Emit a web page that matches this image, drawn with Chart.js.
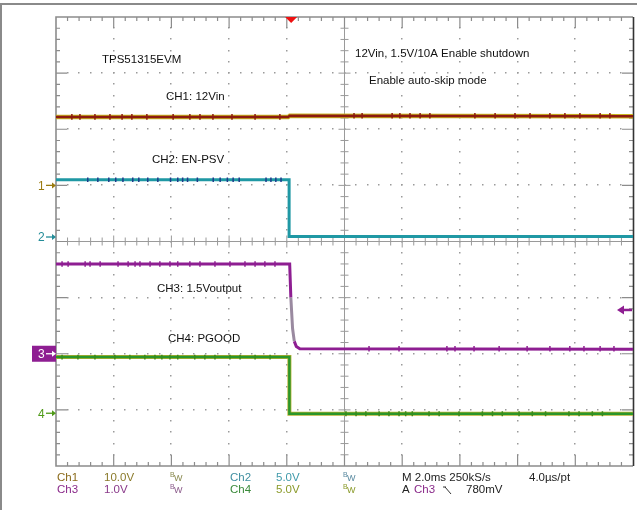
<!DOCTYPE html>
<html>
<head>
<meta charset="utf-8">
<script src="https://cdn.jsdelivr.net/npm/chart.js@4"></script>
<style>
  html, body { margin: 0; padding: 0; background: #fff; }
  canvas { display: block; }
</style>
</head>
<body>
<canvas id="scope" width="637" height="510"></canvas>
<script>
// time in ms (M 2.0ms/div, 10 divisions), values in volts
var ch1Time = [-8, 0.05, 0.1, 12];
var ch1Volts = [12.2, 12.2, 12.4, 12.3];
var ch2Time = [-8, 0.08, 0.08, 12];
var ch2Volts = [5.1, 5.1, 0.05, 0.05];
var ch3Time = [-8, 0.1, 0.14, 0.2, 0.26, 0.33, 0.45, 12];
var ch3Volts = [1.6, 1.6, 1.0, 0.45, 0.22, 0.13, 0.09, 0.08];
var ch4Time = [-8, 0.09, 0.09, 12];
var ch4Volts = [5.0, 5.0, -0.05, -0.05];

// times (ms) of the small noise spikes visible on each trace
var ch1Spikes = [-7.45, -7.17, -6.65, -6.13, -5.71, -5.37, -4.85, -3.94, -3.36, -3.01, -2.56, -1.9, -1.1, -0.24,
  2.33, 2.61, 3.65, 3.92, 4.27, 4.62, 4.96, 6.52, 7.22, 7.91, 8.43, 9.12, 9.64, 10.16, 10.86, 11.2];
var ch2Spikes = [-6.9, -6.55, -6.17, -5.93, -5.68, -5.34, -5.13, -4.82, -4.47, -4.03, -3.78, -3.61, -3.44, -3.1,
  -2.55, -2.31, -2.06, -1.86, -1.65, -0.72, -0.55, -0.38, -0.2];
var ch3Spikes = [-7.79, -7.58, -6.99, -6.82, -6.47, -5.85, -5.5, -5.26, -5.09, -4.74, -4.4, -4.05, -3.78, -3.36,
  -3.01, -2.49, -1.97, -1.45, -1.1, -0.76, -0.41, 2.85, 3.89, 5.55, 5.83, 6.49, 7.36, 8.33, 9.12, 9.81, 10.3, 10.86, 11.34];
var ch4Spikes = [-7.79, -7.24, -6.65, -5.96, -5.44, -4.92, -4.57, -4.33, -4.05, -3.78, -3.19, -2.84, -2.49, -1.97, -1.62,
  -1.1, -0.58, 2.05, 2.4, 2.74, 3.2, 3.54, 3.89, 4.12, 4.35, 4.93, 5.28, 5.97, 6.78, 7.13, 7.47, 8.05, 8.51, 8.97, 9.78, 10.13, 10.59, 10.94];
var spikeVolts = [0.5, 0.2, 0.05, 0.22];

// scope channel settings: volts per division and ground offset in divisions
var voltsPerDiv = [10, 5, 1, 5];
var offsetDiv = [1, 0.08, -2, -3.06];
var triggerVolts = 0.78;
var triggerTime = 0.15;

function pts(t, v) {
  return t.map(function (x, i) { return { x: x, y: v[i] }; });
}

// level the trace is sitting at when a spike occurs (last recorded sample)
function levelAt(times, volts, t) {
  var v = volts[0];
  for (var i = 0; i < times.length; i++) { if (times[i] <= t) v = volts[i]; }
  return v;
}

function spikePts(spikes, times, volts, amp) {
  var out = [];
  spikes.forEach(function (t) {
    var base = levelAt(times, volts, t);
    out.push({ x: t, y: base - amp }, { x: t, y: base + amp }, { x: t, y: null });
  });
  return out;
}

function chAxis(i) {
  return {
    type: 'linear', axis: 'y', display: false,
    min: -(4 + offsetDiv[i]) * voltsPerDiv[i],
    max: (4 - offsetDiv[i]) * voltsPerDiv[i]
  };
}

var gridPlugin = {
  id: 'scopeGrid',
  beforeDatasetsDraw: function (chart) {
    var ctx = chart.ctx, a = chart.chartArea;
    var xs = chart.scales.x, ds = chart.scales.div;
    ctx.save();
    ctx.fillStyle = '#fff';
    ctx.fillRect(0, 0, chart.width, chart.height);

    // outer frame of the screenshot
    ctx.strokeStyle = '#8a8a8a';
    ctx.lineWidth = 2;
    ctx.beginPath();
    ctx.moveTo(0, 4); ctx.lineTo(chart.width, 4);
    ctx.moveTo(1, 4); ctx.lineTo(1, chart.height);
    ctx.stroke();

    // dotted grid
    ctx.fillStyle = '#9a9a9a';
    var i, j, x, y;
    for (i = 1; i < 10; i++) {
      if (i === 5) continue;
      x = xs.getPixelForValue(-8 + 2 * i);
      for (j = 1; j < 40; j++) {
        y = ds.getPixelForValue(-4 + j * 0.2);
        ctx.fillRect(Math.round(x) - 1, Math.round(y) - 1, 1.5, 1.5);
      }
    }
    for (j = 1; j < 8; j++) {
      if (j === 4) continue;
      y = ds.getPixelForValue(-4 + j);
      for (i = 1; i < 50; i++) {
        x = xs.getPixelForValue(-8 + i * 0.4);
        ctx.fillRect(Math.round(x) - 1, Math.round(y) - 1, 1.5, 1.5);
      }
    }

    // center cross with ticks
    var xc = xs.getPixelForValue(2), yc = ds.getPixelForValue(0);
    ctx.strokeStyle = '#9a9a9a';
    ctx.lineWidth = 1;
    ctx.beginPath();
    ctx.moveTo(a.left, yc); ctx.lineTo(a.right, yc);
    ctx.moveTo(xc, a.top); ctx.lineTo(xc, a.bottom);
    for (i = 1; i < 50; i++) {
      x = xs.getPixelForValue(-8 + i * 0.4);
      var h = (i % 5 === 0) ? 6 : 4;
      ctx.moveTo(x, yc - h); ctx.lineTo(x, yc + h);
    }
    for (j = 1; j < 40; j++) {
      y = ds.getPixelForValue(-4 + j * 0.2);
      var w = (j % 5 === 0) ? 6 : 4;
      ctx.moveTo(xc - w, y); ctx.lineTo(xc + w, y);
    }
    ctx.stroke();

    // border ticks
    ctx.strokeStyle = '#8c8c8c';
    ctx.lineWidth = 1.2;
    ctx.beginPath();
    for (i = 1; i < 50; i++) {
      x = xs.getPixelForValue(-8 + i * 0.4);
      var len = (i % 5 === 0) ? 11 : 4;
      ctx.moveTo(x, a.top); ctx.lineTo(x, a.top + len);
      ctx.moveTo(x, a.bottom); ctx.lineTo(x, a.bottom - len);
    }
    for (j = 1; j < 40; j++) {
      y = ds.getPixelForValue(-4 + j * 0.2);
      var len2 = (j % 5 === 0) ? 11 : 4;
      ctx.moveTo(a.left, y); ctx.lineTo(a.left + len2, y);
      ctx.moveTo(a.right, y); ctx.lineTo(a.right - len2, y);
    }
    ctx.stroke();

    ctx.lineWidth = 1.6;
    ctx.beginPath();
    ctx.moveTo(a.right, a.top); ctx.lineTo(a.left, a.top);
    ctx.lineTo(a.left, a.bottom); ctx.lineTo(a.right, a.bottom);
    ctx.stroke();
    ctx.strokeStyle = '#333';
    ctx.beginPath();
    ctx.moveTo(a.right + 0.5, a.top); ctx.lineTo(a.right + 0.5, a.bottom);
    ctx.stroke();
    ctx.restore();
  },

  afterDatasetsDraw: function (chart) {
    var ctx = chart.ctx, a = chart.chartArea, xs = chart.scales.x;
    ctx.save();

    // trigger position marker
    var tx = xs.getPixelForValue(triggerTime);
    ctx.fillStyle = '#ee1111';
    ctx.beginPath();
    ctx.moveTo(tx - 6, a.top); ctx.lineTo(tx + 6, a.top); ctx.lineTo(tx, a.top + 6);
    ctx.closePath(); ctx.fill();

    // trigger level arrow (Ch3)
    var ty = chart.scales.y3.getPixelForValue(triggerVolts);
    ctx.strokeStyle = '#8e1e92'; ctx.fillStyle = '#8e1e92';
    ctx.lineWidth = 2.5;
    ctx.beginPath(); ctx.moveTo(a.right - 1, ty); ctx.lineTo(a.right - 11, ty); ctx.stroke();
    ctx.beginPath();
    ctx.moveTo(a.right - 16, ty); ctx.lineTo(a.right - 9, ty - 4.5); ctx.lineTo(a.right - 9, ty + 4.5);
    ctx.closePath(); ctx.fill();

    // ground markers
    var marks = [['1', '#9a7a10', 'y1'], ['2', '#238c98', 'y2'], ['3', '#8e1e92', 'y3'], ['4', '#4f9a18', 'y4']];
    ctx.font = '12px "Liberation Sans", Arial, sans-serif';
    ctx.textBaseline = 'middle';
    marks.forEach(function (m) {
      var gy = chart.scales[m[2]].getPixelForValue(0);
      var fg = m[1];
      if (m[0] === '3') {
        ctx.fillStyle = m[1];
        ctx.fillRect(32, gy - 8, 24, 16);
        fg = '#fff';
      }
      ctx.fillStyle = fg; ctx.strokeStyle = fg;
      ctx.textAlign = 'left';
      ctx.fillText(m[0], 38, gy + 1);
      ctx.lineWidth = 1.3;
      ctx.beginPath(); ctx.moveTo(46, gy); ctx.lineTo(54, gy); ctx.stroke();
      ctx.beginPath(); ctx.moveTo(56, gy); ctx.lineTo(52, gy - 3); ctx.lineTo(52, gy + 3); ctx.closePath(); ctx.fill();
    });

    // annotations
    var notes = [
      ['TPS51315EVM', 102, 60],
      ['CH1: 12Vin', 166, 97],
      ['CH2: EN-PSV', 152, 160],
      ['12Vin, 1.5V/10A Enable shutdown', 355, 54],
      ['Enable auto-skip mode', 369, 81],
      ['CH3: 1.5Voutput', 157, 289],
      ['CH4: PGOOD', 168, 339]
    ];
    ctx.fillStyle = '#111';
    ctx.font = '11.5px "Liberation Sans", Arial, sans-serif';
    ctx.textAlign = 'left';
    notes.forEach(function (n) { ctx.fillText(n[0], n[1], n[2]); });

    // readout
    var r1 = 478, r2 = 490;
    var readout = [
      ['Ch1', 57, r1, '#8a6a1a'], ['10.0V', 104, r1, '#8a7a2a'],
      ['Ch2', 230, r1, '#3f8ea0'], ['5.0V', 276, r1, '#3f9aaa'],
      ['M 2.0ms 250kS/s', 402, r1, '#222'], ['4.0\u00b5s/pt', 529, r1, '#222'],
      ['Ch3', 57, r2, '#8a2a8a'], ['1.0V', 104, r2, '#8a3a8a'],
      ['Ch4', 230, r2, '#3a8a3a'], ['5.0V', 276, r2, '#8a9a2a'],
      ['A', 402, r2, '#222'], ['Ch3', 414, r2, '#8a2a8a'], ['780mV', 466, r2, '#222']
    ];
    ctx.font = '11.5px "Liberation Sans", Arial, sans-serif';
    readout.forEach(function (t) { ctx.fillStyle = t[3]; ctx.fillText(t[0], t[1], t[2]); });

    // bandwidth limit symbols
    var bw = [[170, r1, '#8a8a50'], [343, r1, '#5a8aa0'], [170, r2, '#8a5a8a'], [343, r2, '#8a9a2a']];
    bw.forEach(function (b) {
      ctx.fillStyle = b[2];
      ctx.font = '7px "Liberation Sans", Arial, sans-serif';
      ctx.fillText('B', b[0], b[1] - 3);
      ctx.font = '9px "Liberation Sans", Arial, sans-serif';
      ctx.fillText('W', b[0] + 4, b[1] + 1);
    });

    // falling slope symbol
    ctx.strokeStyle = '#333'; ctx.lineWidth = 1;
    ctx.beginPath();
    ctx.moveTo(445, r2 - 3); ctx.lineTo(451, r2 + 4);
    ctx.moveTo(443, r2 - 3); ctx.lineTo(446, r2 - 3);
    ctx.stroke();
    ctx.restore();
  }
};

var spikeStyle = { borderWidth: 1.5, spanGaps: false };

new Chart(document.getElementById('scope').getContext('2d'), {
  type: 'line',
  data: {
    datasets: [
      Object.assign({ data: spikePts(ch1Spikes, ch1Time, ch1Volts, spikeVolts[0]), yAxisID: 'y1', borderColor: '#8c1a10' }, spikeStyle),
      { data: pts(ch1Time, ch1Volts), yAxisID: 'y1', borderColor: '#8c1a10', borderWidth: 2.5 },
      { data: pts(ch1Time, ch1Volts), yAxisID: 'y1', borderColor: '#c8b420', borderWidth: 4.5 },
      Object.assign({ data: spikePts(ch2Spikes, ch2Time, ch2Volts, spikeVolts[1]), yAxisID: 'y2', borderColor: '#1e3c8c' }, spikeStyle),
      { data: pts(ch2Time, ch2Volts), yAxisID: 'y2', borderColor: '#1f98a4', borderWidth: 3 },
      Object.assign({ data: spikePts(ch4Spikes, ch4Time, ch4Volts, spikeVolts[3]), yAxisID: 'y4', borderColor: '#3a8a1a' }, spikeStyle),
      { data: pts(ch4Time, ch4Volts), yAxisID: 'y4', borderColor: '#2a962a', borderWidth: 2.5 },
      { data: pts(ch4Time, ch4Volts), yAxisID: 'y4', borderColor: '#b8b030', borderWidth: 4 },
      Object.assign({ data: spikePts(ch3Spikes, ch3Time, ch3Volts, spikeVolts[2]), yAxisID: 'y3', borderColor: '#8e1e92' }, spikeStyle),
      {
        data: pts(ch3Time, ch3Volts), yAxisID: 'y3', borderColor: '#8e1e92', borderWidth: 3,
        segment: {
          borderColor: function (c) {
            return (c.p0.parsed.y <= 1.0 && c.p0.parsed.y > 0.3) ? '#9a8aa0' : undefined;
          }
        }
      }
    ]
  },
  options: {
    responsive: false,
    devicePixelRatio: 1,
    animation: false,
    events: [],
    elements: { point: { radius: 0 }, line: { tension: 0, borderJoinStyle: 'miter' } },
    layout: { padding: { left: 56, top: 17, right: 4, bottom: 44 } },
    plugins: { legend: { display: false }, tooltip: { enabled: false }, title: { display: false } },
    scales: {
      x: { type: 'linear', axis: 'x', display: false, min: -8, max: 12 },
      div: { type: 'linear', axis: 'y', display: false, min: -4, max: 4 },
      y1: chAxis(0),
      y2: chAxis(1),
      y3: chAxis(2),
      y4: chAxis(3)
    }
  },
  plugins: [gridPlugin]
});
</script>
</body>
</html>
